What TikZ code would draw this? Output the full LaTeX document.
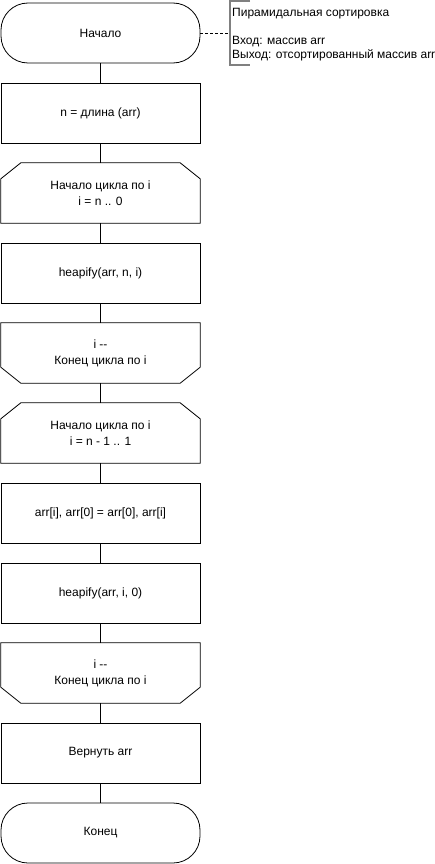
\documentclass[tikz,border=0pt]{standalone}
\usepackage{fontspec}
\setmainfont{Liberation Sans}
\begin{document}
\begin{tikzpicture}[x=1pt,y=-1pt,
  base/.style={minimum width=199pt,minimum height=60pt,inner sep=0pt,align=center,font=\fontsize{12}{16}\selectfont},
  proc/.style={base,draw,line width=0.8pt},
  term/.style={base,draw,line width=0.8pt,rounded corners=27pt},
  loopbox/.style={base},
  link/.style={line width=0.8pt}]
\useasboundingbox (0,0) rectangle (435,864);
\node[term] (start) at (100.5,33) {Начало};
\node[proc] (n) at (100.5,113) {n = длина (arr)};
\node[loopbox] (l1) at (100.5,193) {Начало цикла по i\\i = n .. 0};
\node[proc] (h1) at (100.5,273) {heapify(arr, n, i)};
\node[loopbox] (e1) at (100.5,353) {i {-}{-}\\Конец цикла по i};
\node[loopbox] (l2) at (100.5,433) {Начало цикла по i\\i = n - 1 .. 1};
\node[proc] (sw) at (100.5,513) {arr[i], arr[0] = arr[0], arr[i]};
\node[proc] (h2) at (100.5,593) {heapify(arr, i, 0)};
\node[loopbox] (e2) at (100.5,673) {i {-}{-}\\Конец цикла по i};
\node[proc] (ret) at (100.5,753) {Вернуть arr};
\node[term] (end) at (100.5,833) {Конец};
% loop shapes
\foreach \a in {l1,l2}{
  \draw[link] ([xshift=20pt]\a.north west) -- ([xshift=-20pt]\a.north east) -- ([yshift=-16pt]\a.north east) -- (\a.south east) -- (\a.south west) -- ([yshift=-16pt]\a.north west) -- cycle;
}
\foreach \a in {e1,e2}{
  \draw[link] (\a.north west) -- (\a.north east) -- ([yshift=16pt]\a.south east) -- ([xshift=-20pt]\a.south east) -- ([xshift=20pt]\a.south west) -- ([yshift=16pt]\a.south west) -- cycle;
}
\draw[link] (start) -- (n);
\draw[link] (n) -- (l1);
\draw[link] (l1) -- (h1);
\draw[link] (h1) -- (e1);
\draw[link] (e1) -- (l2);
\draw[link] (l2) -- (sw);
\draw[link] (sw) -- (h2);
\draw[link] (h2) -- (e2);
\draw[link] (e2) -- (ret);
\draw[link] (ret) -- (end);
% comment
\coordinate (ct) at (250,1);
\coordinate (cb) at (250,65);
\coordinate (cm) at (230,33);
\draw[gray,line width=2pt] (ct) -| (230,65) -- (cb);
\draw[line width=0.6pt,dash pattern=on 3pt off 2pt] (start.east) -- (cm);
\node[anchor=north west,inner sep=0pt,align=left,font=\fontsize{12}{14}\selectfont] (cmt) at (232,8)
  {Пирамидальная сортировка\\\mbox{}\\Вход: массив arr\\Выход: отсортированный массив arr};
\end{tikzpicture}
\end{document}
